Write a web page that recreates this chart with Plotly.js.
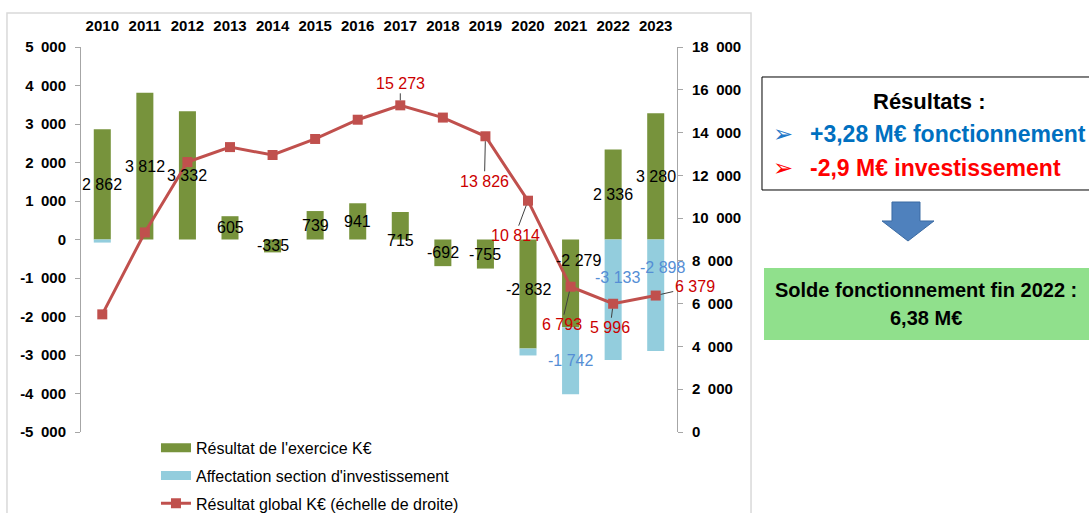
<!DOCTYPE html>
<html>
<head>
<meta charset="utf-8">
<script src="https://cdn.plot.ly/plotly-3.0.1.min.js"></script>
<style>html,body{margin:0;padding:0;background:#fff;}#chart{width:1089px;height:513px;}</style>
</head>
<body>
<div id="chart"></div>
<script>
// ---------- data ----------
const years = ['2010','2011','2012','2013','2014','2015','2016','2017','2018','2019','2020','2021','2022','2023'];
const resultatExercice = [2862, 3812, 3332, 605, -335, 739, 941, 715, -692, -755, -2832, -2279, 2336, 3280];
const affectationInvest = [-80, 0, 0, 0, 0, 0, 0, 0, 0, 0, -180, -1742, -3133, -2898];
const resultatGlobal = [5500, 9330, 12620, 13320, 12950, 13700, 14600, 15273, 14700, 13826, 10814, 6793, 5996, 6379];
const labelledAffectationYears = ['2021','2022','2023'];
const labelledGlobalYears = ['2017','2019','2020','2021','2022','2023'];
const leftTickVals = [-5000,-4000,-3000,-2000,-1000,0,1000,2000,3000,4000,5000];
const rightTickVals = [0,2000,4000,6000,8000,10000,12000,14000,16000,18000];
const seriesNames = ["Résultat de l'exercice K€", "Affectation section d'investissement", "Résultat global K€ (échelle de droite)"];

// ---------- helpers ----------
function fmt(v, sep) {
  const s = Math.abs(Math.round(v)).toString();
  let out = s.length > 3 ? s.slice(0, s.length - 3) + sep + s.slice(s.length - 3) : s;
  return (v < 0 ? '-' : '') + out;
}
const FONT = 'Liberation Sans, Arial, sans-serif';
const GREEN = '#77933C', BLUE = '#93CDDD', RED_LINE = '#C0504D';

// ---------- label styling (pixel nudges only) ----------
const globalLabelOffsets = {   // [ax, ay]
  '2017': [0, -22], '2019': [-1, 45], '2020': [-13, 35],
  '2021': [-9, 38], '2022': [-3, 24], '2023': [39, -9]
};
const exerciceLabelNudge = {'2017': [0, -15], '2020': [0, 5], '2021': [8, 23]};   // [xshift, yshift]
const affectationLabelNudge = {'2022': [4, 22], '2023': [7, 28]};

const traces = [
  {
    type: 'bar', name: seriesNames[0], x: years, y: resultatExercice,
    marker: {color: GREEN}, showlegend: false, hoverinfo: 'skip'
  },
  {
    type: 'bar', name: seriesNames[1], x: years, y: affectationInvest,
    marker: {color: BLUE}, showlegend: false, hoverinfo: 'skip'
  },
  {
    type: 'scatter', mode: 'lines+markers', name: seriesNames[2], x: years, y: resultatGlobal,
    yaxis: 'y2', showlegend: false,
    line: {color: RED_LINE, width: 3},
    marker: {symbol: 'square', size: 10, color: RED_LINE},
    hoverinfo: 'skip'
  },
  // legend entries (wide swatches as in the original)
  {type: 'scatter', mode: 'lines', name: seriesNames[0], x: [null], y: [null],
   line: {color: GREEN, width: 9}, legendgroup: 'a'},
  {type: 'scatter', mode: 'lines', name: seriesNames[1], x: [null], y: [null],
   line: {color: BLUE, width: 9}, legendgroup: 'b'},
  {type: 'scatter', mode: 'lines+markers', name: seriesNames[2], x: [null], y: [null], yaxis: 'y2',
   line: {color: RED_LINE, width: 3}, marker: {symbol: 'square', size: 10, color: RED_LINE}, legendgroup: 'c'}
];

const annotations = [];
// bar value labels, positioned at the middle of each stacked segment
years.forEach((yr, i) => {
  const g = resultatExercice[i];
  const n = exerciceLabelNudge[yr] || [0, 0];
  annotations.push({
    x: i, y: g / 2, xref: 'x', yref: 'y', text: fmt(g, ' '), showarrow: false,
    xshift: n[0], yshift: n[1],
    font: {family: FONT, size: 16, color: '#000'}
  });
  if (labelledAffectationYears.includes(yr)) {
    const b = affectationInvest[i];
    const base = (b < 0 && g < 0) || (b > 0 && g > 0) ? g : 0;
    const m = affectationLabelNudge[yr] || [0, 0];
    annotations.push({
      x: i, y: base + b / 2, xref: 'x', yref: 'y', text: fmt(b, ' '), showarrow: false,
      xshift: m[0], yshift: m[1],
      font: {family: FONT, size: 16, color: '#558ED5'}
    });
  }
});
// line labels
years.forEach((yr, i) => {
  if (labelledGlobalYears.includes(yr)) {
    const off = globalLabelOffsets[yr];
    annotations.push({
      x: i, y: resultatGlobal[i], xref: 'x', yref: 'y2',
      text: fmt(resultatGlobal[i], ' '),
      showarrow: true, arrowhead: 0, arrowwidth: 1, arrowcolor: '#404040',
      ax: off[0], ay: off[1], standoff: 5,
      font: {family: FONT, size: 16, color: '#CC0000'}
    });
  }
});

// right-hand panel (paper coordinates)
annotations.push(
  {xref: 'paper', yref: 'paper', x: 1.4228, y: 0.8597, showarrow: false, text: '<b>Résultats :</b>',
   font: {family: FONT, size: 22, color: '#000'}, xanchor: 'center', yanchor: 'middle'},
  {xref: 'paper', yref: 'paper', x: 1.1779, y: 0.774, showarrow: false, text: '➢',
   font: {family: 'DejaVu Sans', size: 24, color: '#1F78C8'}, xanchor: 'center', yanchor: 'middle'},
  {xref: 'paper', yref: 'paper', x: 1.2198, y: 0.774, showarrow: false, text: '<b>+3,28 M€ fonctionnement</b>',
   font: {family: FONT, size: 23, color: '#0070C0'}, xanchor: 'left', yanchor: 'middle'},
  {xref: 'paper', yref: 'paper', x: 1.1779, y: 0.6857, showarrow: false, text: '➢',
   font: {family: 'DejaVu Sans', size: 24, color: '#FF0000'}, xanchor: 'center', yanchor: 'middle'},
  {xref: 'paper', yref: 'paper', x: 1.2198, y: 0.6857, showarrow: false, text: '<b>-2,9 M€ investissement</b>',
   font: {family: FONT, size: 23, color: '#FF0000'}, xanchor: 'left', yanchor: 'middle'},
  {xref: 'paper', yref: 'paper', x: 1.4178, y: 0.3688, showarrow: false, text: '<b>Solde fonctionnement fin 2022 :</b>',
   font: {family: FONT, size: 20, color: '#000'}, xanchor: 'center', yanchor: 'middle'},
  {xref: 'paper', yref: 'paper', x: 1.4178, y: 0.2961, showarrow: false, text: '<b>6,38 M€</b>',
   font: {family: FONT, size: 20, color: '#000'}, xanchor: 'center', yanchor: 'middle'}
);

const shapes = [
  // chart frame
  {type: 'rect', xref: 'paper', yref: 'paper', x0: -0.1242, x1: 1.1242, y0: -0.35, y1: 1.0883,
   line: {color: '#D9D9D9', width: 1.5}, fillcolor: 'rgba(0,0,0,0)', layer: 'below'},
  // Résultats box
  {type: 'rect', xref: 'paper', yref: 'paper', x0: 1.1426, x1: 1.72, y0: 0.6286, y1: 0.9221,
   line: {color: '#000', width: 1}, fillcolor: '#FFFFFF', layer: 'below'},
  // down arrow
  {type: 'path', xref: 'paper', yref: 'paper',
   path: 'M1.3607,0.5974 L1.4077,0.5974 L1.4077,0.5481 L1.4312,0.5481 L1.3876,0.4961 L1.3440,0.5481 L1.3607,0.5481 Z',
   fillcolor: '#4F81BD', line: {color: '#3B6BA3', width: 1}},
  // solde box
  {type: 'rect', xref: 'paper', yref: 'paper', x0: 1.1460, x1: 1.72, y0: 0.2390, y1: 0.4260,
   line: {width: 0}, fillcolor: '#90E08C', layer: 'below'}
];

const layout = {
  width: 1089, height: 513, autosize: false,
  margin: {l: 81, r: 412, t: 47, b: 81, pad: 0, autoexpand: false},
  paper_bgcolor: '#FFFFFF', plot_bgcolor: '#FFFFFF',
  font: {family: FONT, size: 14, color: '#000'},
  barmode: 'relative', bargap: 0.6,
  showlegend: true,
  legend: {x: 0.1258, y: 0.003, xanchor: 'left', yanchor: 'top', orientation: 'v',
           traceorder: 'grouped', tracegroupgap: 4, bgcolor: 'rgba(0,0,0,0)',
           font: {family: FONT, size: 16, color: '#000'}},
  xaxis: {type: 'category', range: [-0.5, 13.5], autorange: false, side: 'top',
          showline: false, showgrid: false, zeroline: false,
          ticks: '', ticklabelstandoff: 12,
          tickfont: {family: FONT, size: 15, color: '#000', weight: 'bold'}},
  yaxis: {range: [-5000, 5000], autorange: false, tickvals: leftTickVals,
          ticktext: leftTickVals.map(v => fmt(v, '\u2002')),
          showline: true, linecolor: '#A6A6A6', linewidth: 1, ticks: 'outside', ticklen: 5,
          tickcolor: '#A6A6A6', showgrid: false, zeroline: false, ticklabelstandoff: 6,
          tickfont: {family: FONT, size: 15, color: '#000', weight: 'bold'}},
  yaxis2: {range: [0, 18000], autorange: false, overlaying: 'y', side: 'right', tickvals: rightTickVals,
           ticktext: rightTickVals.map(v => fmt(v, '\u2002')),
           showline: true, linecolor: '#A6A6A6', linewidth: 1, ticks: 'outside', ticklen: 5,
           tickcolor: '#A6A6A6', showgrid: false, zeroline: false, ticklabelstandoff: 6,
           tickfont: {family: FONT, size: 15, color: '#000', weight: 'bold'}},
  annotations: annotations,
  shapes: shapes
};

Plotly.newPlot('chart', traces, layout, {staticPlot: true, displayModeBar: false});
</script>
</body>
</html>
